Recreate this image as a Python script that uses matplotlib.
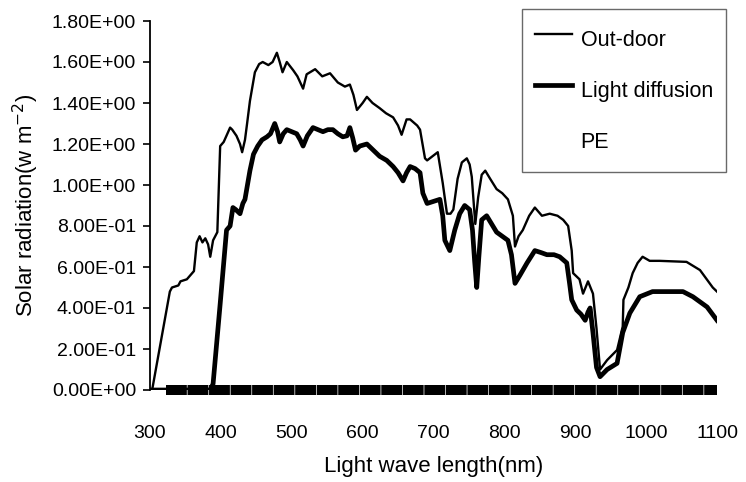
import numpy as np
import matplotlib
matplotlib.use("Agg")
import matplotlib.pyplot as plt
from matplotlib.ticker import FuncFormatter
from matplotlib.lines import Line2D

plt.rcParams["font.family"] = ["Liberation Sans", "DejaVu Sans"]
plt.rcParams["lines.scale_dashes"] = False

# wavelength (nm) / radiation
outdoor_nm = [300, 303, 328, 331, 340, 343, 352, 357, 362, 366, 370, 374, 378, 382, 385,
              389, 395, 399, 404, 413, 416, 422, 427, 430, 434, 437, 441, 448, 454, 459,
              467, 473, 479, 483, 487, 493, 502, 508, 516, 521, 533, 543, 554, 565, 575,
              582, 587, 592, 600, 606, 614, 624, 633, 643, 650, 655, 662, 667, 677, 681,
              688, 691, 706, 713, 719, 724, 728, 734, 740, 747, 751, 754, 757, 759, 763,
              768, 773, 780, 789, 797, 805, 812, 815, 820, 826, 835, 843, 853, 864, 875,
              883, 890, 895, 897, 906, 911, 918, 925, 930, 935, 945, 959, 967, 968, 975,
              981, 988, 995, 1005, 1019, 1057, 1076, 1094, 1100]
outdoor_val = [0.0, 0.0, 0.48, 0.50, 0.51, 0.53, 0.54, 0.56, 0.58, 0.72, 0.75, 0.72, 0.74, 0.71, 0.65,
               0.73, 0.77, 1.19, 1.21, 1.28, 1.27, 1.24, 1.20, 1.16, 1.22, 1.30, 1.41, 1.55, 1.59, 1.60,
               1.585, 1.60, 1.645, 1.60, 1.55, 1.60, 1.56, 1.53, 1.47, 1.54, 1.565, 1.53, 1.545, 1.50, 1.48,
               1.49, 1.44, 1.366, 1.40, 1.43, 1.40, 1.375, 1.35, 1.33, 1.29, 1.245, 1.32, 1.32, 1.29, 1.27,
               1.13, 1.12, 1.16, 1.01, 0.86, 0.86, 0.88, 1.03, 1.11, 1.13, 1.10, 1.04, 0.90, 0.81, 0.94,
               1.05, 1.07, 1.03, 0.98, 0.96, 0.93, 0.85, 0.70, 0.75, 0.78, 0.85, 0.89, 0.85, 0.86, 0.85,
               0.83, 0.80, 0.68, 0.57, 0.54, 0.47, 0.53, 0.47, 0.30, 0.10, 0.146, 0.195, 0.31, 0.44, 0.50,
               0.57, 0.62, 0.65, 0.63, 0.63, 0.625, 0.585, 0.50, 0.48]

diffusion_nm = [300, 385, 389, 399, 408, 413, 417, 421, 427, 431, 434, 441, 446, 452, 458,
                465, 470, 476, 480, 483, 488, 493, 500, 507, 512, 516, 522, 530, 537, 544,
                551, 558, 565, 572, 578, 582, 586, 590, 596, 606, 615, 624, 634, 643, 650,
                657, 662, 667, 674, 681, 685, 691, 700, 709, 713, 716, 723, 730, 737, 744,
                751, 755, 758, 761, 764, 768, 775, 782, 789, 797, 805, 810, 815, 822, 832,
                843, 852, 860, 870, 878, 888, 892, 895, 902, 908, 914, 918, 921, 925, 930,
                935, 945, 959, 967, 977, 991, 1009, 1030, 1052, 1066, 1086, 1100]
diffusion_val = [0.0, 0.0, 0.03, 0.42, 0.78, 0.80, 0.89, 0.88, 0.86, 0.91, 0.93, 1.07, 1.15, 1.19, 1.22,
                 1.235, 1.25, 1.30, 1.26, 1.21, 1.25, 1.27, 1.26, 1.25, 1.22, 1.19, 1.24, 1.28, 1.27, 1.26,
                 1.27, 1.27, 1.25, 1.235, 1.24, 1.28, 1.23, 1.17, 1.19, 1.20, 1.17, 1.14, 1.12, 1.09, 1.06,
                 1.02, 1.06, 1.09, 1.08, 1.06, 0.96, 0.91, 0.92, 0.93, 0.85, 0.73, 0.68, 0.78, 0.86, 0.90,
                 0.88, 0.78, 0.63, 0.50, 0.65, 0.83, 0.85, 0.81, 0.77, 0.75, 0.73, 0.66, 0.52, 0.56, 0.62,
                 0.68, 0.67, 0.66, 0.66, 0.65, 0.62, 0.52, 0.44, 0.39, 0.37, 0.34, 0.38, 0.40, 0.28, 0.11,
                 0.065, 0.10, 0.13, 0.28, 0.375, 0.455, 0.48, 0.48, 0.48, 0.455, 0.405, 0.34]

pe_nm = [322, 1100]
pe_val = [0.0, 0.0]

x_ticks = [300, 400, 500, 600, 700, 800, 900, 1000, 1100]
y_ticks = [0.0, 0.2, 0.4, 0.6, 0.8, 1.0, 1.2, 1.4, 1.6, 1.8]

fig = plt.figure(figsize=(7.46, 4.82), dpi=100)
ax = fig.add_axes([150 / 746, 1 - 390 / 482, 567 / 746, 369 / 482])

ax.plot(pe_nm, pe_val, color="black", lw=7.2, dashes=(15, 0.5), solid_capstyle="butt",
        clip_on=False, zorder=3)
ax.plot(diffusion_nm, diffusion_val, color="black", lw=3.4, zorder=2)
ax.plot(outdoor_nm, outdoor_val, color="black", lw=1.7, zorder=2)

ax.set_xlim(300, 1100)
ax.set_ylim(0, 1.8)
ax.set_xticks(x_ticks)
ax.set_yticks(y_ticks)
ax.yaxis.set_major_formatter(FuncFormatter(lambda v, p: f"{v:.2E}"))

for s in ["top", "right", "bottom"]:
    ax.spines[s].set_visible(False)
ax.spines["left"].set_linewidth(1.3)
ax.tick_params(axis="y", direction="out", length=5, width=1.2, pad=5, labelsize=14)
ax.tick_params(axis="x", length=0, pad=25, labelsize=14)

ax.set_xlabel("Light wave length(nm)", fontsize=16, labelpad=10)
ax.set_ylabel("Solar radiation(w m$^{-2}$)", fontsize=16, labelpad=8)

handles = [Line2D([], [], color="black", lw=1.7),
           Line2D([], [], color="black", lw=3.4),
           Line2D([], [], color="none")]
leg = ax.legend(handles, ["Out-door", "Light diffusion", "PE"],
                loc="upper left", bbox_to_anchor=(522 / 746, 1 - 9 / 482),
                bbox_transform=fig.transFigure, borderaxespad=0,
                fontsize=15.5, frameon=True, fancybox=False,
                handlelength=1.7, handleheight=2.1, handletextpad=0.4,
                labelspacing=0.75, borderpad=0.62)
leg.get_frame().set_edgecolor("#444444")
leg.get_frame().set_linewidth(1.0)

fig.savefig("out.png", dpi=100)
